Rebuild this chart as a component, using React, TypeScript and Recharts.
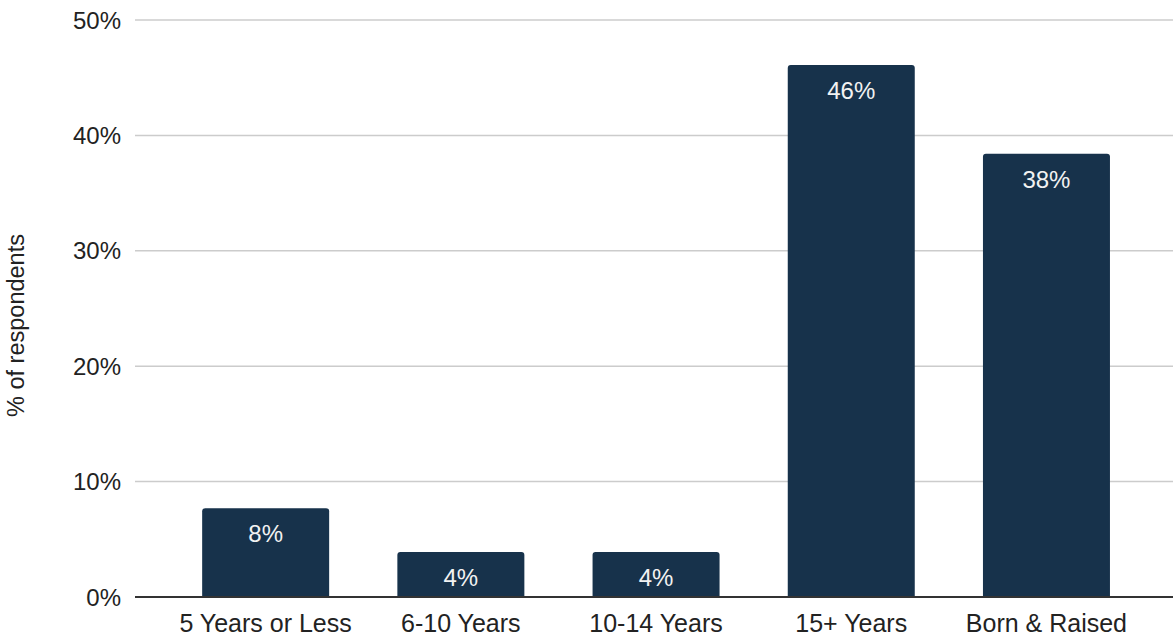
import React from "react";
import { BarChart, Bar, XAxis, YAxis, CartesianGrid, LabelList } from "recharts";

const categories = ["5 Years or Less", "6-10 Years", "10-14 Years", "15+ Years", "Born & Raised"];
const shares = [7.7, 3.9, 3.9, 46.1, 38.4];
const yTicks = [0, 10, 20, 30, 40, 50];

const data = categories.map((c, i) => ({ name: c, value: shares[i] }));

const FONT = "'Liberation Sans', Arial, sans-serif";

const YLabel = (props: any) => {
  const vb = props.viewBox || {};
  const x = vb.x + 16;
  const y = vb.y + vb.height / 2 + 17;
  return (
    <text
      x={x}
      y={y}
      transform={`rotate(-90, ${x}, ${y})`}
      textAnchor="middle"
      dominantBaseline="central"
      fontSize={23.5}
      fontFamily={FONT}
      fill="#222"
    >
      % of respondents
    </text>
  );
};

export default function App() {
  return (
    <div style={{ position: "absolute", left: 0, top: 0, background: "#fff" }}>
      <BarChart
        width={1173}
        height={638}
        data={data}
        margin={{ top: 20, right: 0, bottom: 0, left: 0 }}
        barCategoryGap="17.5%"
      >
        <CartesianGrid vertical={false} stroke="#cccccc" strokeWidth={1.5} />
        <XAxis
          dataKey="name"
          tickLine={false}
          axisLine={{ stroke: "#333", strokeWidth: 2 }}
          padding={{ left: 33, right: 29 }}
          height={41}
          tickMargin={11}
          tick={{ fontSize: 25, fontFamily: FONT, fill: "#222" }}
          interval={0}
        />
        <YAxis
          domain={[0, 50]}
          ticks={yTicks}
          tickFormatter={(v: number) => `${v}%`}
          axisLine={false}
          tickLine={false}
          width={135}
          tickMargin={8}
          tick={{ fontSize: 24, fontFamily: FONT, fill: "#222" }}
          label={<YLabel />}
        />
        <Bar dataKey="value" fill="#17324b" radius={[3, 3, 0, 0]} isAnimationActive={false}>
          <LabelList
            dataKey="value"
            position="insideTop"
            offset={17}
            formatter={(v: number) => `${Math.round(v)}%`}
            style={{ fontSize: 24, fontFamily: FONT, fill: "#f2f2f2" }}
          />
        </Bar>
      </BarChart>
    </div>
  );
}
